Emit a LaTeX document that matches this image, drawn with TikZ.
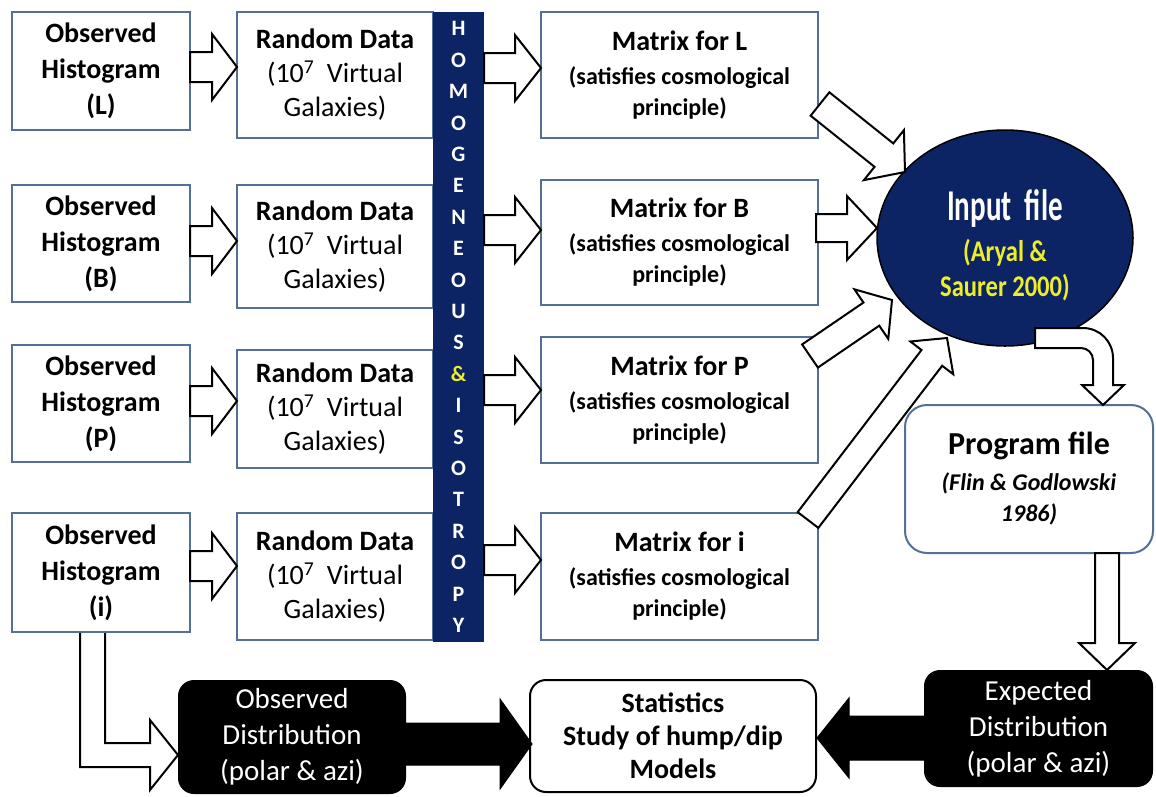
\documentclass[tikz,border=0pt]{standalone}
\usepackage{fontspec}
\usepackage{graphicx}
\setmainfont{Carlito}
\usetikzlibrary{calc,shapes.geometric}
\definecolor{navy}{RGB}{12,36,100}
\definecolor{boxline}{RGB}{84,112,150}
\definecolor{ylw}{RGB}{238,238,40}
\newcommand\blockarrow[6][hollow]{%
  \path let \p1=($(#3)-(#2)$), \n1={atan2(\y1,\x1)}, \n2={veclen(\x1,\y1)} in
    \pgfextra{\xdef\BAang{\n1}\xdef\BAlen{\n2}};
  \begin{scope}[shift={(#2)},rotate=\BAang]
    \draw[#1] (0,-#4) -- ({\BAlen-#6},-#4) -- ({\BAlen-#6},-#5) -- (\BAlen,0)
      -- ({\BAlen-#6},#5) -- ({\BAlen-#6},#4) -- (0,#4) -- cycle;
  \end{scope}}
\begin{document}
\begin{tikzpicture}[x=1pt,y=-1pt,
  box/.style={draw=boxline,line width=2pt,fill=white,align=center,inner sep=0pt},
  hollow/.style={draw=black,line width=2pt,fill=white,line join=miter},
  solid/.style={fill=black,draw=black,line width=1pt},
  hist/.style={box,minimum width=178pt,font=\bfseries\fontsize{28}{36}\selectfont},
  rand/.style={box,minimum width=196pt,font=\fontsize{28}{34}\selectfont},
  matr/.style={box,minimum width=277pt,minimum height=126pt,font=\bfseries\fontsize{24}{31}\selectfont},
  dark/.style={fill=black,rounded corners=16pt,text=white,align=center,inner sep=0pt,font=\fontsize{29}{36}\selectfont}]
\fill[white] (0,0) rectangle (1156,796);
\useasboundingbox (0,0) rectangle (1156,796);

% observed histograms
\node[hist,minimum height=118pt] (hL) at (101,71) {Observed\\Histogram\\(L)};
\node[hist,minimum height=117pt] (hB) at (101,243.5) {Observed\\Histogram\\(B)};
\node[hist,minimum height=117pt] (hP) at (101,403.5) {Observed\\Histogram\\(P)};
\node[hist,minimum height=119pt] (hI) at (101,572.5) {Observed\\Histogram\\(i)};

% random data
\node[rand,minimum height=126pt] (rL) at (335,75) {\textbf{Random Data}\\(10\textsuperscript{7}\ \ Virtual\\Galaxies)};
\node[rand,minimum height=123pt] (rB) at (335,246.5) {\textbf{Random Data}\\(10\textsuperscript{7}\ \ Virtual\\Galaxies)};
\node[rand,minimum height=118pt] (rP) at (335,409) {\textbf{Random Data}\\(10\textsuperscript{7}\ \ Virtual\\Galaxies)};
\node[rand,minimum height=127pt] (rI) at (335,576.5) {\textbf{Random Data}\\(10\textsuperscript{7}\ \ Virtual\\Galaxies)};

% bar
\node[fill=navy,minimum width=51pt,minimum height=630pt,inner sep=0pt,text=white,align=center,
  font=\bfseries\fontsize{22}{31.4}\selectfont] (bar) at (458.5,327)
  {H\\O\\M\\O\\G\\E\\N\\E\\O\\U\\S\\{\color{ylw}\&}\\I\\S\\O\\T\\R\\O\\P\\Y};

% matrices
\node[matr] (mL) at (679.5,75) {{\fontsize{28}{31}\selectfont Matrix for L}\\[3pt](satisfies cosmological\\principle)};
\node[matr,minimum height=125pt] (mB) at (679.5,242.5) {{\fontsize{28}{31}\selectfont Matrix for B}\\[3pt](satisfies cosmological\\principle)};
\node[matr] (mP) at (679.5,400) {{\fontsize{28}{31}\selectfont Matrix for P}\\[3pt](satisfies cosmological\\principle)};
\node[matr,minimum height=127pt] (mI) at (679.5,576.5) {{\fontsize{28}{31}\selectfont Matrix for i}\\[3pt](satisfies cosmological\\principle)};

% input ellipse
\node[ellipse,fill=navy,draw=black,line width=1.5pt,minimum width=256pt,minimum height=216pt,inner sep=0pt] (inp) at (1005,238) {};
\node[align=center,inner sep=0pt,font=\bfseries\fontsize{30}{35}\selectfont] (inpT) at (1005,245)
  {\scalebox{0.66}[1]{\fontsize{44}{44}\selectfont\color{white}Input\ \ file}\\[6pt]
   \scalebox{0.82}[1]{\color{ylw}(Aryal \&}\\
   \scalebox{0.82}[1]{\color{ylw}Saurer 2000)}};

% program file
\node[box,rounded corners=22pt,minimum width=248pt,minimum height=148pt,
  font=\bfseries\itshape\fontsize{24}{31}\selectfont] (prog) at (1029,479)
  {{\upshape\fontsize{32}{36}\selectfont Program file}\\[5pt]
   (Flin \& Godlowski\\
   1986)};

% bottom boxes
\node[dark,minimum width=228pt,minimum height=114pt] (obs) at (292,737) {Observed\\Distribution\\(polar \& azi)};
\node[box,draw=black,rounded corners=16pt,minimum width=286pt,minimum height=112pt,
  font=\bfseries\fontsize{28}{33}\selectfont] (stat) at (673,736) {Statistics\\Study of hump/dip\\Models};
\node[dark,minimum width=229pt,minimum height=117pt] (exp) at (1038.5,728.5) {Expected\\Distribution\\(polar \& azi)};

% arrow end points
\coordinate (h1) at (190,67);   \coordinate (r1) at (237,67);
\coordinate (h2) at (190,241);  \coordinate (r2) at (237,241);
\coordinate (h3) at (190,401);  \coordinate (r3) at (237,401);
\coordinate (h4) at (190,566);  \coordinate (r4) at (237,566);
\coordinate (b1) at (484,68);   \coordinate (m1) at (541,68);
\coordinate (b2) at (484,230);  \coordinate (m2) at (541,230);
\coordinate (b3) at (484,390);  \coordinate (m3) at (541,390);
\coordinate (b4) at (484,560);  \coordinate (m4) at (541,560);
\coordinate (e1s) at (820,104); \coordinate (e1) at (905,172);
\coordinate (e2s) at (816,228); \coordinate (e2) at (877,228);
\coordinate (e3s) at (810,356); \coordinate (e3) at (892,300);
\coordinate (e4s) at (808,520); \coordinate (e4) at (947,338);
\coordinate (pS) at (1107,553); \coordinate (pE) at (1107,670);
\coordinate (oS) at (406,744);  \coordinate (oE) at (532,744);
\coordinate (xS) at (924,738);  \coordinate (xE) at (817,738);

\blockarrow{h1}{r1}{15}{33}{25}
\blockarrow{h2}{r2}{15}{33}{25}
\blockarrow{h3}{r3}{15}{33}{25}
\blockarrow{h4}{r4}{15}{33}{25}
\blockarrow{b1}{m1}{15}{33}{26}
\blockarrow{b2}{m2}{15}{33}{26}
\blockarrow{b3}{m3}{15}{33}{26}
\blockarrow{b4}{m4}{15}{33}{26}
\blockarrow{e1s}{e1}{15}{32}{27}
\blockarrow{e2s}{e2}{14}{32}{30}
\blockarrow{e3s}{e3}{14}{30}{25}
\blockarrow{e4s}{e4}{13}{27}{25}
\blockarrow{pS}{pE}{12}{28}{27}
\blockarrow[solid]{oS}{oE}{21}{45}{32}
\blockarrow[solid]{xS}{xE}{22}{40}{32}

% curved arrow from input file to program file
\draw[hollow] (1035,328) [rounded corners=30pt] -- (1113,328) [sharp corners] -- (1113,385) -- (1124,385)
  -- (1103,405) -- (1082,385) -- (1093,385) [rounded corners=12pt] -- (1093,348) [sharp corners] -- (1035,348) -- cycle;

% L-shaped arrow from histogram (i) to observed distribution
\filldraw[hollow] (80,633) -- (80,767) -- (150,767) -- (150,790) -- (178,755) -- (150,720)
  -- (150,743) -- (105,743) -- (105,633);
\end{tikzpicture}
\end{document}
